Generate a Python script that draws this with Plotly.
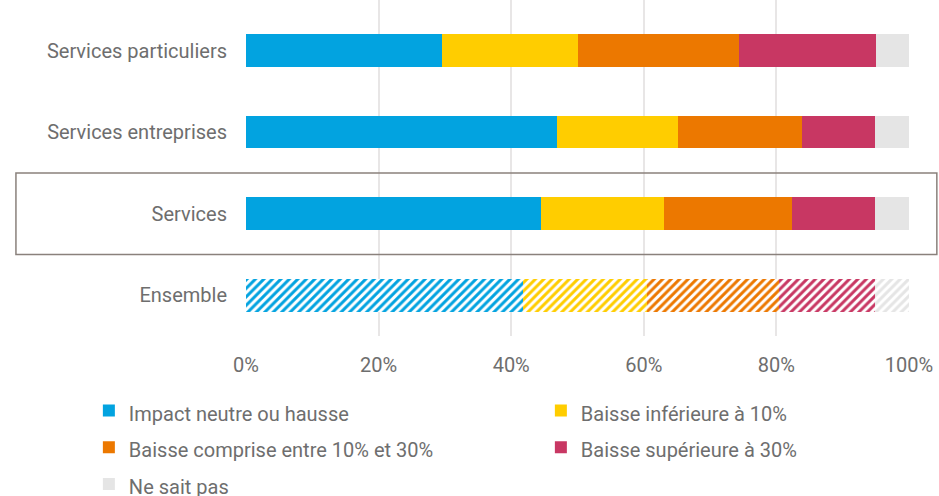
import plotly.graph_objects as go

categories = ["Services particuliers", "Services entreprises", "Services", "Ensemble"]
series_names = ["Impact neutre ou hausse", "Baisse inférieure à 10%",
                "Baisse comprise entre 10% et 30%", "Baisse supérieure à 30%", "Ne sait pas"]
impact_neutre = [29.6, 46.9, 44.5, 41.8]
baisse_inf_10 = [20.4, 18.3, 18.6, 18.7]
baisse_10_30 = [24.4, 18.6, 19.3, 19.9]
baisse_sup_30 = [20.6, 11.0, 12.4, 14.4]
ne_sait_pas = [5.0, 5.2, 5.2, 5.2]
tick_vals = [0, 20, 40, 60, 80, 100]
tick_text = ["0%", "20%", "40%", "60%", "80%", "100%"]

colors = ["#02A3E0", "#FFCD00", "#EC7800", "#C83763", "#E5E5E5"]
all_series = [impact_neutre, baisse_inf_10, baisse_10_30, baisse_sup_30, ne_sait_pas]

FONT = "Roboto, sans-serif"
TXT = "#6E6E6E"

fig = go.Figure()
solid_cats = categories[:3]
for name, vals, col in zip(series_names, all_series, colors):
    fig.add_trace(go.Bar(
        y=solid_cats, x=vals[:3], orientation="h",
        name="<span style='font-size:20px'>" + name + "</span>",
        marker=dict(color=col, line=dict(width=0)), legendgroup=name,
        width=0.4,
    ))
    fig.add_trace(go.Bar(
        y=categories[3:], x=vals[3:], name=name, orientation="h",
        marker=dict(color="white", line=dict(width=0),
                    pattern=dict(shape="/", fgcolor=col, bgcolor="white",
                                 fgopacity=1, size=6, solidity=0.5,
                                 fillmode="replace")),
        legendgroup=name, showlegend=False, width=0.4,
    ))

fig.update_layout(
    barmode="stack",
    width=939, height=496,
    margin=dict(l=246, r=30, t=0, b=160, autoexpand=False),
    plot_bgcolor="white", paper_bgcolor="white",
    font=dict(family=FONT, size=20, color=TXT),
    xaxis=dict(range=[0, 100], tickvals=tick_vals, ticktext=tick_text,
               showgrid=True, gridcolor="#E8E6E6", gridwidth=2,
               zeroline=False, showline=False, ticks="", ticklabelstandoff=15,
               tickfont=dict(size=20, color=TXT)),
    yaxis=dict(categoryorder="array", categoryarray=categories,
               range=[3.5, -0.62], showgrid=False, zeroline=False,
               ticks="", ticklabelstandoff=18,
               tickfont=dict(size=20, color=TXT)),
    legend=dict(orientation="h", x=-0.237, xanchor="left", y=-0.152, yanchor="top",
                entrywidth=407, entrywidthmode="pixels",
                font=dict(size=26, color=TXT), traceorder="normal",
                itemwidth=30),
    showlegend=True,
)

fig.add_shape(type="rect", xref="paper", yref="y",
              x0=-0.347, x1=1.042, y0=1.5, y1=2.5,
              line=dict(color="#8A817C", width=1.5), fillcolor="rgba(0,0,0,0)",
              layer="above")

fig.write_html("out.html", post_script="document.body.style.margin='0';",
               config={"displayModeBar": False})
